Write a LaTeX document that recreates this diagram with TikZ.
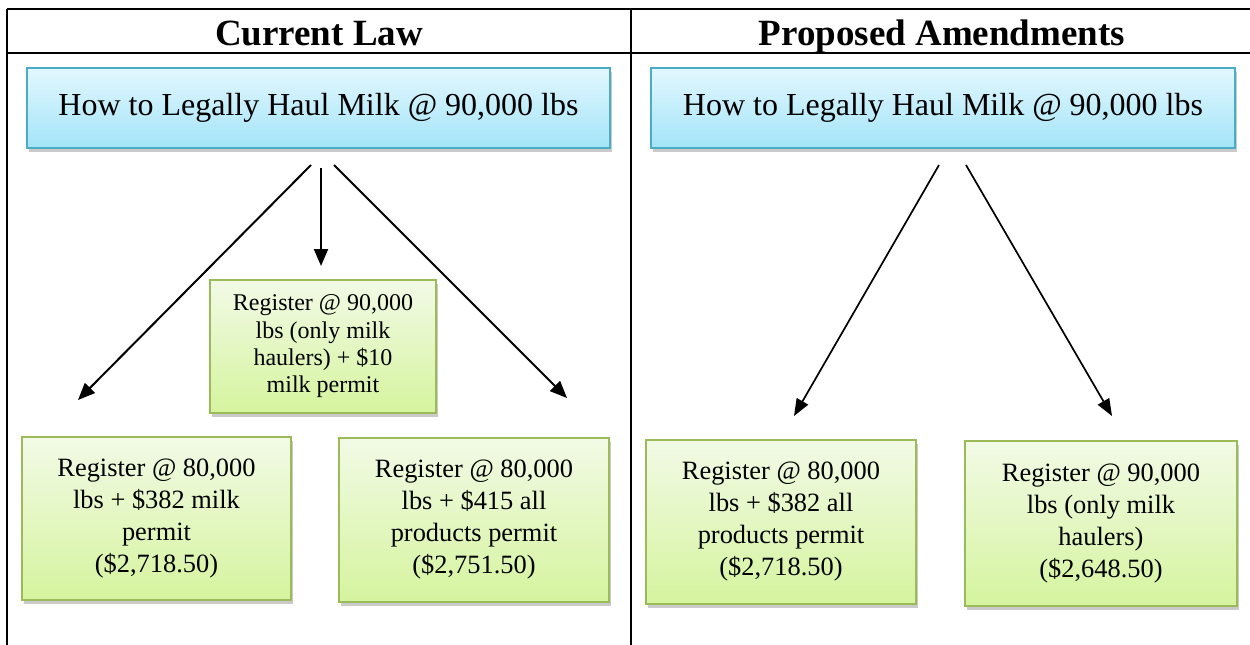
\documentclass[tikz,border=0pt]{standalone}
\usepackage{fontspec}
\setmainfont{Liberation Serif}
\usetikzlibrary{arrows.meta,shadows}
\definecolor{bluetop}{HTML}{E3F8FE}
\definecolor{bluebot}{HTML}{A3E4F8}
\definecolor{blueline}{HTML}{4BACC6}
\definecolor{greentop}{HTML}{F2FAE6}
\definecolor{greenbot}{HTML}{D5F49E}
\definecolor{greenline}{HTML}{9BBB59}
\tikzset{
  tline/.style={line width=2.2pt, black},
  boxshadow/.style={drop shadow={shadow xshift=2pt, shadow yshift=-4pt, opacity=0.35, fill=black!60}},
  bluebox/.style={draw=blueline, line width=1.3pt, top color=bluetop, bottom color=bluebot,
    boxshadow, inner sep=0pt, minimum height=80pt, font=\fontsize{32}{38}\selectfont},
  greenbox/.style={draw=greenline, line width=1.3pt, top color=greentop, bottom color=greenbot,
    boxshadow, inner sep=0pt, align=center, font=\fontsize{26.4}{32}\selectfont},
  smallgreen/.style={greenbox, font=\fontsize{24}{27.3}\selectfont},
  headtext/.style={font=\fontsize{37}{44}\selectfont\bfseries, anchor=base, inner sep=0pt},
  arr/.style={line width=2pt, -{Triangle[length=17pt,width=14pt]}},
  arrthin/.style={line width=1.7pt, -{Triangle[length=17pt,width=13pt]}}
}
\begin{document}
\begin{tikzpicture}[x=1pt,y=-1pt]
\useasboundingbox (0,0) rectangle (1250,645);
% table
\coordinate (tl) at (7,9);
\coordinate (tr) at (1250,9);
\coordinate (hl) at (7,53);
\coordinate (hr) at (1250,53);
\coordinate (bl) at (7,645);
\coordinate (mt) at (631,9);
\coordinate (mb) at (631,645);
\draw[tline] (tl) -- (tr);
\draw[tline] (hl) -- (hr);
\draw[tline] (tl) -- (bl);
\draw[tline] (mt) -- (mb);
% headers
\node[headtext] (h1) at (319,45) {Current Law};
\node[headtext] (h2) at (942,45) {Proposed Amendments};
% top boxes
\node[bluebox, minimum width=583pt] (topL) at (318.5,108) {How to Legally Haul Milk @ 90,000 lbs};
\node[bluebox, minimum width=584pt] (topR) at (943,108) {How to Legally Haul Milk @ 90,000 lbs};
% left side boxes
\node[smallgreen, minimum width=226pt, minimum height=133pt] (midL) at (323,346.5)
  {Register @ 90,000\\lbs (only milk\\haulers) + \$10\\milk permit};
\node[greenbox, minimum width=269pt, minimum height=163pt] (boxL1) at (156.5,518.5)
  {Register @ 80,000\\lbs + \$382 milk\\permit\\(\$2,718.50)};
\node[greenbox, minimum width=270pt, minimum height=164pt] (boxL2) at (474,520)
  {Register @ 80,000\\lbs + \$415 all\\products permit\\(\$2,751.50)};
% right side boxes
\node[greenbox, minimum width=270pt, minimum height=164pt] (boxR1) at (781,522)
  {Register @ 80,000\\lbs + \$382 all\\products permit\\(\$2,718.50)};
\node[greenbox, minimum width=272pt, minimum height=165pt] (boxR2) at (1101,523.5)
  {Register @ 90,000\\lbs (only milk\\haulers)\\(\$2,648.50)};
% arrows left
\coordinate (sL1) at (311,165);
\coordinate (eL1) at (78,400);
\coordinate (sL2) at (321,168);
\coordinate (eL2) at (321,266);
\coordinate (sL3) at (334,165);
\coordinate (eL3) at (567,398);
\draw[arr] (sL1) -- (eL1);
\draw[arr] (sL2) -- (eL2);
\draw[arr] (sL3) -- (eL3);
% arrows right
\coordinate (sR1) at (939,165);
\coordinate (eR1) at (794,416);
\coordinate (sR2) at (966,165);
\coordinate (eR2) at (1112,416);
\draw[arrthin] (sR1) -- (eR1);
\draw[arrthin] (sR2) -- (eR2);
\end{tikzpicture}
\end{document}
